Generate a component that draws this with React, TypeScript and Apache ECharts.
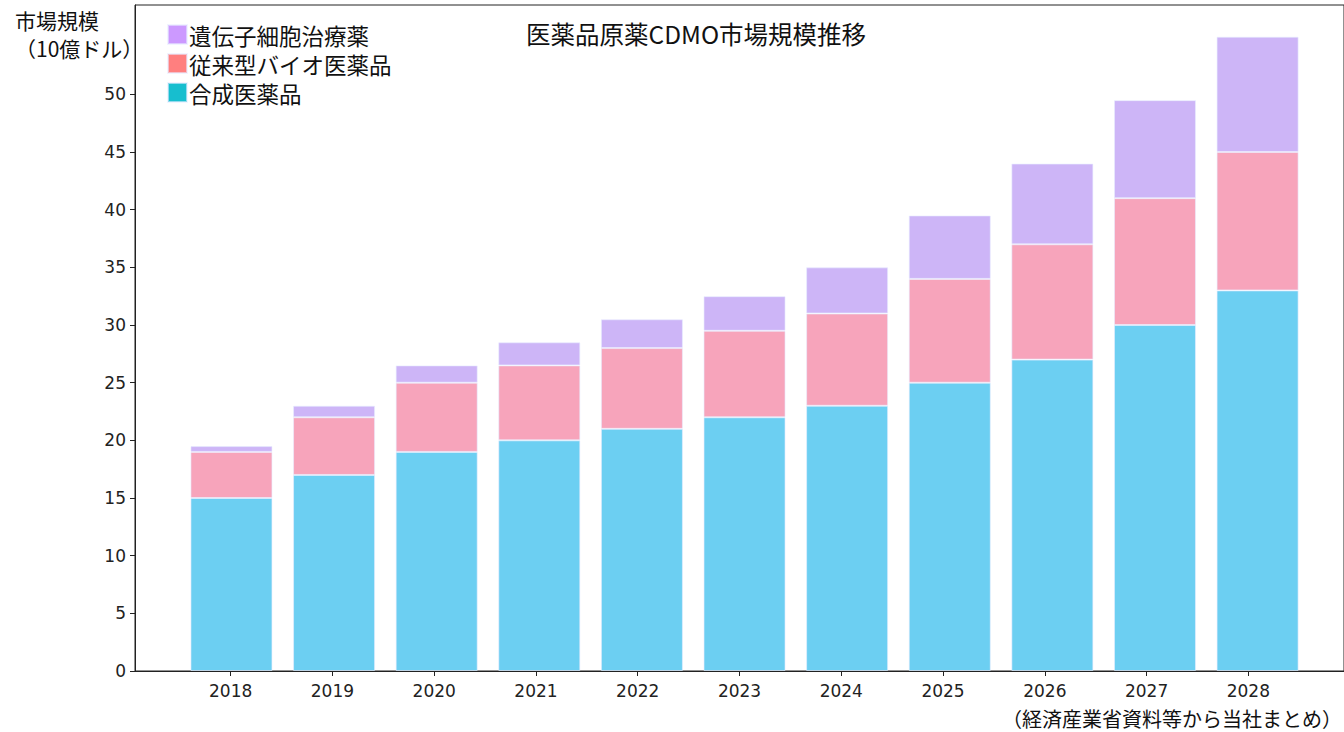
import React, { useEffect, useRef } from "react";
import * as echarts from "echarts";

const years = ["2018", "2019", "2020", "2021", "2022", "2023", "2024", "2025", "2026", "2027", "2028"];
const synthetic = [15, 17, 19, 20, 21, 22, 23, 25, 27, 30, 33];
const bio = [4, 5, 6, 6.5, 7, 7.5, 8, 9, 10, 11, 12];
const geneCell = [0.5, 1, 1.5, 2, 2.5, 3, 4, 5.5, 7, 8.5, 10];
const yTicks = [0, 5, 10, 15, 20, 25, 30, 35, 40, 45, 50];

const seriesNames = ["合成医薬品", "従来型バイオ医薬品", "遺伝子細胞治療薬"];
const barColors = ["#6CCFF2", "#F7A4BB", "#CDB5F7"];
const legendColors = ["#17BECF", "#FF7F7F", "#CC99FF"];

const JP = "'Noto Sans CJK JP', 'Noto Sans', sans-serif";
const NUM = "'DejaVu Sans', sans-serif";

export default function App() {
  const ref = useRef<HTMLDivElement>(null);
  useEffect(() => {
    if (!ref.current) return;
    const chart = echarts.init(ref.current, null, { renderer: "svg" });
    const idx = years.map((_, i) => i);
    const datasets = [synthetic, bio, geneCell];
    const yMax = 57.75;
    chart.setOption({
      animation: false,
      backgroundColor: "#ffffff",
      title: {
        text: "医薬品原薬CDMO市場規模推移",
        left: 521,
        top: 16,
        textStyle: { fontFamily: JP, fontSize: 24.5, fontWeight: "normal", color: "#111" },
      },
      legend: {
        orient: "vertical",
        left: 162,
        top: 18,
        itemWidth: 19,
        itemHeight: 19,
        itemGap: 6,
        icon: "rect",
        textStyle: { fontFamily: JP, fontSize: 22.5, lineHeight: 23, color: "#111", padding: [0, 0, 0, -3] },
        data: [2, 1, 0].map((i) => ({ name: seriesNames[i], itemStyle: { color: legendColors[i] } })),
      },
      grid: [
        { left: 135, top: 5, right: -10, bottom: 61, show: true, borderColor: "#222", borderWidth: 1, containLabel: false },
        { left: 180.15, top: 5, right: 35.1, bottom: 61, containLabel: false },
      ],
      xAxis: [
        {
          type: "value",
          gridIndex: 0,
          min: -0.94,
          max: 10.94,
          splitLine: { show: false },
          axisLine: { show: true, onZero: false, lineStyle: { color: "#222" } },
          axisTick: { show: true, customValues: idx, length: 5, lineStyle: { color: "#222" } },
          axisLabel: {
            customValues: idx,
            formatter: (v: number) => years[Math.round(v)],
            fontFamily: NUM,
            fontSize: 17,
            color: "#222",
            margin: 11,
          },
        },
        {
          type: "category",
          gridIndex: 1,
          data: years,
          show: false,
        },
      ],
      yAxis: [
        {
          type: "value",
          gridIndex: 0,
          min: 0,
          max: yMax,
          splitLine: { show: false },
          axisLine: { show: true, onZero: false, lineStyle: { color: "#222" } },
          axisTick: { show: true, customValues: yTicks, length: 5, lineStyle: { color: "#222" } },
          axisLabel: { customValues: yTicks, fontFamily: NUM, fontSize: 17, color: "#222", margin: 9 },
        },
        {
          type: "value",
          gridIndex: 1,
          min: 0,
          max: yMax,
          show: false,
          splitLine: { show: false },
        },
      ],
      series: datasets.map((d, s) => ({
        name: seriesNames[s],
        type: "bar",
        stack: "total",
        xAxisIndex: 1,
        yAxisIndex: 1,
        barWidth: 82,
        itemStyle: { color: barColors[s], borderColor: "rgba(232,236,255,0.6)", borderWidth: 1 },
        data: d,
      })),
      graphic: [
        {
          type: "text",
          left: 15,
          top: 6,
          style: { text: "市場規模\n（10億ドル）", fontFamily: JP, fontSize: 21, lineHeight: 28, fill: "#111" },
        },
        {
          type: "text",
          right: 2,
          top: 708,
          style: { text: "（経済産業省資料等から当社まとめ）", fontFamily: JP, fontSize: 20, fill: "#111" },
        },
      ],
    });
    return () => chart.dispose();
  }, []);
  return <div ref={ref} style={{ position: "absolute", left: 0, top: 0, width: 1344, height: 732 }} />;
}
